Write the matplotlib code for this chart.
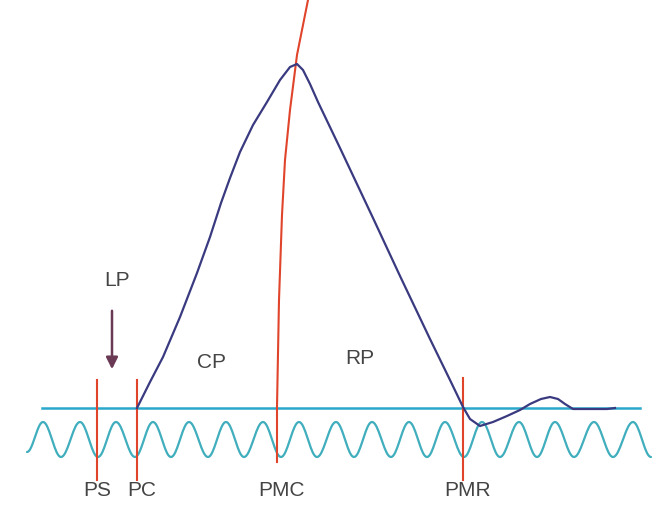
import numpy as np
import matplotlib
matplotlib.use("Agg")
import matplotlib.pyplot as plt

# ---- data (diagram coordinates, image-like units) ----
# main response curve (blue)
curve_x = [137, 150, 163, 180, 197, 210, 221, 230, 240, 253, 267, 280, 290,
           297, 303, 310, 318, 340, 373, 400, 430, 450, 463, 470, 480, 493,
           507, 520, 530, 541, 550, 558, 565, 573, 590, 607, 615]
curve_y = [408, 382, 357, 317, 273, 237, 203, 178, 152, 125, 102, 80, 67,
           64, 70, 84, 102, 148, 218, 276, 339, 380, 407, 419, 426, 422,
           416, 410, 404, 399, 397, 399, 404, 409, 409, 409, 408]

# baseline
base_x = [42, 640]
base_y = [408, 408]

# oscillation extrema (peaks and troughs)
wave_x = [27, 43, 61, 80, 98, 116, 135, 153, 171, 189, 208, 226, 244, 263,
          281, 299, 317, 336, 354, 372, 391, 409, 427, 445, 464, 482, 500,
          519, 537, 555, 574, 594, 613, 633, 651]
wave_y = [452] + [422, 457] * 17

# curved PMC line
pmc_x = [308, 303, 297, 290, 285, 282, 279, 277, 277]
pmc_y = [0, 25, 55, 110, 160, 215, 300, 407, 462]

# straight markers
vline_x = [97, 137, 463]
vline_top = [380, 380, 378]
vline_bot = [480, 480, 480]

labels = ["PS", "PC", "PMC", "PMR"]
label_x = [97, 142, 282, 468]
label_y = 491

region_labels = ["LP", "CP", "RP"]
region_x = [117, 212, 360]
region_y = [280, 363, 358]

arrow_x = 112
arrow_y0, arrow_y1 = 308, 372

# ---- figure ----
fig = plt.figure(figsize=(6.66, 5.09), dpi=100)
ax = fig.add_axes([0, 0, 1, 1])
ax.set_xlim(0, 666)
ax.set_ylim(509, 0)
ax.axis("off")

red = "#e0452c"
navy = "#3a3a80"
cyan = "#2aa8cc"
teal = "#40aebd"
txt = "#444444"

# oscillation: cosine-shaped arcs between consecutive extrema
wx, wy = [], []
for i in range(len(wave_x) - 1):
    t = np.linspace(0, 1, 20, endpoint=False)
    x0, x1 = wave_x[i], wave_x[i + 1]
    y0, y1 = wave_y[i], wave_y[i + 1]
    wx.extend(x0 + (x1 - x0) * t)
    wy.extend(y0 + (y1 - y0) * (1 - np.cos(np.pi * t)) / 2)
wx.append(wave_x[-1]); wy.append(wave_y[-1])
ax.plot(wx, wy, color=teal, lw=1.6, solid_capstyle="round", zorder=2)

ax.plot(base_x, base_y, color=cyan, lw=1.8, zorder=2)

for x, y0, y1 in zip(vline_x, vline_top, vline_bot):
    ax.plot([x, x], [y0, y1], color=red, lw=1.5, zorder=3)
ax.plot(pmc_x, pmc_y, color=red, lw=1.5, zorder=3)

ax.plot(curve_x, curve_y, color=navy, lw=1.6, zorder=4,
        solid_joinstyle="round")

ax.annotate("", xy=(arrow_x, arrow_y1), xytext=(arrow_x, arrow_y0),
            arrowprops=dict(arrowstyle="-|>,head_width=0.35,head_length=0.7",
                            color="#6a3a55", lw=1.8))

for s, x in zip(labels, label_x):
    ax.text(x, label_y, s, ha="center", va="center", fontsize=15,
            color=txt, family="Liberation Sans")
for s, x, y in zip(region_labels, region_x, region_y):
    ax.text(x, y, s, ha="center", va="center", fontsize=15,
            color=txt, family="Liberation Sans")

fig.savefig("out.png", dpi=100, facecolor="white")
